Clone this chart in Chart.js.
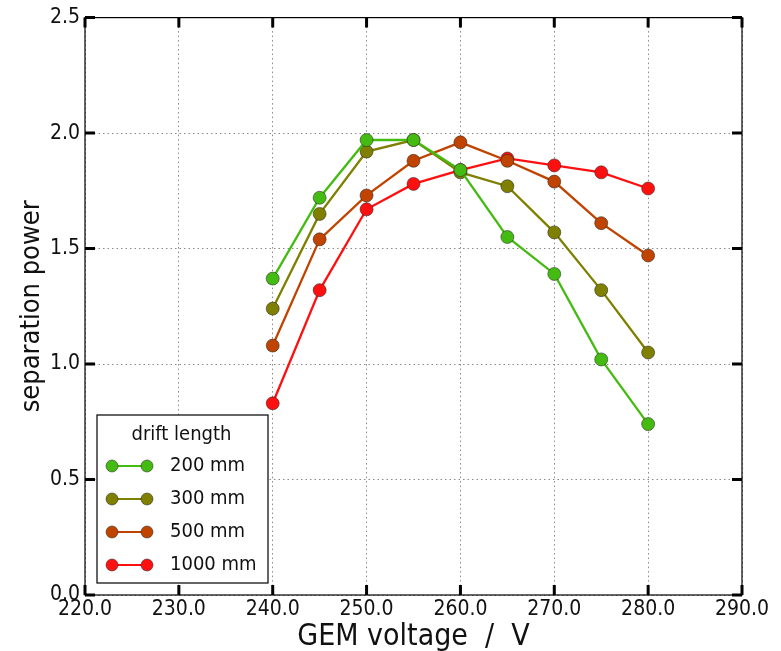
<!DOCTYPE html>
<html lang="en">
<head>
    <meta charset="UTF-8">
    <title>separation power vs GEM voltage</title>
    <script src="https://cdn.jsdelivr.net/npm/chart.js@4/dist/chart.umd.min.js"></script>
    <style>
        html, body { margin: 0; padding: 0; background: #fff; }
        #wrap { width: 781px; height: 651px; }
    </style>
</head>
<body>
    <div id="wrap"><canvas id="chart" width="781" height="651"></canvas></div>

    <script>
        // data
        const voltages = [240, 245, 250, 255, 260, 265, 270, 275, 280];
        const drift200 = [1.37, 1.72, 1.97, 1.97, 1.84, 1.55, 1.39, 1.02, 0.74];
        const drift300 = [1.24, 1.65, 1.92, 1.97, 1.83, 1.77, 1.57, 1.32, 1.05];
        const drift500 = [1.08, 1.54, 1.73, 1.88, 1.96, 1.88, 1.79, 1.61, 1.47];
        const drift1000 = [0.83, 1.32, 1.67, 1.78, 1.84, 1.89, 1.86, 1.83, 1.76];
        const seriesLabels = ['200 mm', '300 mm', '500 mm', '1000 mm'];
        const seriesColors = ['#44bb11', '#7f7f00', '#c04400', '#ff1010'];
        const xTicks = [220, 230, 240, 250, 260, 270, 280, 290];
        const yTicks = [0, 0.5, 1.0, 1.5, 2.0, 2.5];

        const FONT = "'Liberation Sans Narrow', 'DejaVu Sans Condensed', Lato, sans-serif";

        const makeSet = (label, values, color) => ({
            label: label,
            data: voltages.map((v, i) => ({ x: v, y: values[i] })),
            borderColor: color,
            backgroundColor: color,
            pointBackgroundColor: color,
            pointBorderColor: 'rgba(40,40,40,0.55)',
            pointBorderWidth: 1,
            pointRadius: 6.5,
            borderWidth: 2.3,
            tension: 0
        });

        // frame, inward tick marks and the legend box
        const framePlugin = {
            id: 'frame',
            afterDraw(chart) {
                const ctx = chart.ctx;
                const a = chart.chartArea;
                const xs = chart.scales.x, ys = chart.scales.y;
                ctx.save();
                ctx.strokeStyle = '#000';
                ctx.lineWidth = 1.2;
                ctx.strokeRect(a.left, a.top, a.right - a.left, a.bottom - a.top);

                ctx.lineWidth = 3;
                ctx.beginPath();
                xTicks.forEach(t => {
                    const px = xs.getPixelForValue(t);
                    ctx.moveTo(px, a.bottom); ctx.lineTo(px, a.bottom - 10);
                    ctx.moveTo(px, a.top); ctx.lineTo(px, a.top + 10);
                });
                yTicks.forEach(t => {
                    const py = ys.getPixelForValue(t);
                    ctx.moveTo(a.left, py); ctx.lineTo(a.left + 10, py);
                    ctx.moveTo(a.right, py); ctx.lineTo(a.right - 10, py);
                });
                ctx.stroke();

                // legend
                const lx = 97, ly = 415, lw = 171, lh = 168;
                ctx.fillStyle = '#fff';
                ctx.fillRect(lx, ly, lw, lh);
                ctx.lineWidth = 1.2;
                ctx.strokeStyle = '#000';
                ctx.strokeRect(lx, ly, lw, lh);
                ctx.fillStyle = '#111';
                ctx.font = "20px " + FONT;
                ctx.textAlign = 'center';
                ctx.textBaseline = 'middle';
                ctx.fillText('drift length', lx + lw / 2 - 1, ly + 20);
                ctx.textAlign = 'left';
                chart.data.datasets.forEach((ds, i) => {
                    const y = ly + 51 + i * 33;
                    ctx.strokeStyle = ds.borderColor;
                    ctx.lineWidth = 2;
                    ctx.beginPath();
                    ctx.moveTo(lx + 15, y); ctx.lineTo(lx + 50, y);
                    ctx.stroke();
                    [lx + 15, lx + 50].forEach(cx => {
                        ctx.beginPath();
                        ctx.arc(cx, y, 6, 0, Math.PI * 2);
                        ctx.fillStyle = ds.borderColor;
                        ctx.fill();
                        ctx.lineWidth = 1;
                        ctx.strokeStyle = 'rgba(40,40,40,0.55)';
                        ctx.stroke();
                    });
                    ctx.fillStyle = '#111';
                    ctx.fillText(ds.label, lx + 73, y);
                });
                ctx.restore();
            }
        };

        new Chart(document.getElementById('chart'), {
            type: 'line',
            data: {
                datasets: [
                    makeSet(seriesLabels[0], drift200, seriesColors[0]),
                    makeSet(seriesLabels[1], drift300, seriesColors[1]),
                    makeSet(seriesLabels[2], drift500, seriesColors[2]),
                    makeSet(seriesLabels[3], drift1000, seriesColors[3])
                ]
            },
            options: {
                responsive: false,
                animation: false,
                layout: { padding: { left: 0, right: 39, top: 17, bottom: 0 } },
                plugins: {
                    legend: { display: false },
                    tooltip: { enabled: false }
                },
                scales: {
                    x: {
                        type: 'linear',
                        min: 220,
                        max: 290,
                        afterBuildTicks: s => { s.ticks = xTicks.map(v => ({ value: v })); },
                        afterFit: s => { s.height = 56; },
                        grid: { color: '#8a8a8a', drawTicks: false },
                        border: { display: false, dash: [1.5, 3] },
                        ticks: {
                            padding: 2,
                            color: '#111',
                            maxRotation: 0,
                            font: { family: FONT, size: 21 },
                            callback: v => Number(v).toFixed(1)
                        },
                        title: {
                            display: true,
                            text: 'GEM voltage  /  V',
                            color: '#111',
                            padding: { top: -4, bottom: -4 },
                            font: { family: FONT, size: 30 }
                        }
                    },
                    y: {
                        type: 'linear',
                        min: 0,
                        max: 2.5,
                        afterBuildTicks: s => { s.ticks = yTicks.map(v => ({ value: v })); },
                        afterFit: s => { s.width = 85; },
                        grid: { color: '#8a8a8a', drawTicks: false },
                        border: { display: false, dash: [1.5, 3] },
                        ticks: {
                            padding: 5,
                            color: '#111',
                            font: { family: FONT, size: 21 },
                            callback: v => Number(v).toFixed(1)
                        },
                        title: {
                            display: true,
                            text: 'separation power',
                            color: '#111',
                            padding: { top: 16, bottom: 0 },
                            font: { family: FONT, size: 27 }
                        }
                    }
                }
            },
            plugins: [framePlugin]
        });
    </script>
</body>
</html>
